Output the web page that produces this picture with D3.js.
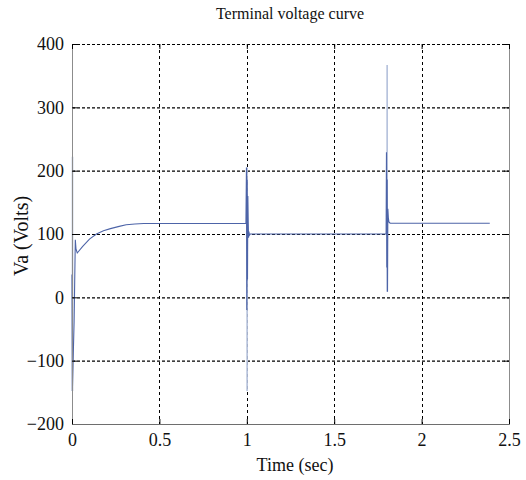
<!DOCTYPE html>
<html>
<head>
<meta charset="utf-8">
<script src="https://cdn.jsdelivr.net/npm/d3@7"></script>
<style>
  html, body { margin: 0; padding: 0; background: #fff; }
  svg { display: block; }
  svg text { font-family: "Liberation Serif", "Times New Roman", serif; }
</style>
</head>
<body>
<svg id="chart" width="526" height="480"></svg>
<script>
// Terminal voltage trace (time in s, voltage in V)
const traceTime = [0, 0.002, 0.012, 0.019, 0.023, 0.03, 0.06, 0.1, 0.14, 0.18, 0.22, 0.27, 0.31, 0.36, 0.41,
  0.995, 0.998, 1.0, 1.002, 1.004, 1.006, 1.008, 1.01, 1.012, 1.015, 1.02,
  1.797, 1.799, 1.801, 1.803, 1.805, 1.807, 1.81, 1.813, 1.82, 2.39];
const traceVolts = [36, -148, -39, 91, 76, 70, 80, 92, 100, 105, 108.5, 112, 114.5, 115.8, 116.5,
  116.5, 205, -20, 186, 28, 160, 123, 94, 104, 98, 100,
  100, 229, 47, 186, 9, 140, 125, 119, 117, 117];

// Fast switching transients (drawn lighter, behind the trace)
const spikeTime = [0, 0.999, 1.8];
const spikeHigh = [222, 205, 367];
const spikeLow = [-148, -148, 9];

const xTicks = [0, 0.5, 1, 1.5, 2, 2.5];
const yTicks = [-200, -100, 0, 100, 200, 300, 400];

const svg = d3.select('#chart');
const plot = { left: 72, right: 509, top: 44, bottom: 424 };
const serif = '"Liberation Serif", "Times New Roman", serif';

const x = d3.scaleLinear().domain([0, 2.5]).range([plot.left, plot.right]);
const y = d3.scaleLinear().domain([-200, 400]).range([plot.bottom, plot.top]);

// Grid (dotted, black)
svg.append('g')
  .selectAll('line')
  .data(yTicks)
  .join('line')
  .attr('x1', plot.left).attr('x2', plot.right)
  .attr('y1', (d) => y(d) + 0.5).attr('y2', (d) => y(d) + 0.5)
  .attr('stroke', '#000')
  .attr('stroke-width', 1.2)
  .attr('stroke-dasharray', '3,2');

svg.append('g')
  .selectAll('line')
  .data(xTicks.slice(1, -1))
  .join('line')
  .attr('x1', (d) => Math.round(x(d)) + 0.5).attr('x2', (d) => Math.round(x(d)) + 0.5)
  .attr('y1', plot.top).attr('y2', plot.bottom)
  .attr('stroke', '#000')
  .attr('stroke-width', 1)
  .attr('stroke-dasharray', '3,3');

// Light transient spikes
svg.append('g')
  .selectAll('line')
  .data(spikeTime)
  .join('line')
  .attr('x1', (d) => x(d) + 0.5).attr('x2', (d) => x(d) + 0.5)
  .attr('y1', (d, i) => y(spikeHigh[i])).attr('y2', (d, i) => y(spikeLow[i]))
  .attr('stroke', '#b3bfdb')
  .attr('stroke-width', 1.6);

// Main trace
const points = traceTime.map((t, i) => [t, traceVolts[i]]);
svg.append('path')
  .datum(points)
  .attr('fill', 'none')
  .attr('stroke', '#4d64a8')
  .attr('stroke-width', 1.1)
  .attr('d', d3.line().x((p) => x(p[0])).y((p) => y(p[1])));

// Axes: ticks drawn inward, box lines in gray
const axisLeft = svg.append('g')
  .attr('transform', `translate(${plot.left},0)`)
  .call(d3.axisLeft(y).tickValues(yTicks).tickSize(-5).tickPadding(8).tickFormat(d3.format('d')));
const axisRight = svg.append('g')
  .attr('transform', `translate(${plot.right},0)`)
  .call(d3.axisRight(y).tickValues(yTicks).tickSize(-5).tickFormat(() => ''));
const axisBottom = svg.append('g')
  .attr('transform', `translate(0,${plot.bottom})`)
  .call(d3.axisBottom(x).tickValues(xTicks).tickSize(-5).tickPadding(9).tickFormat((d) => String(d)));
const axisTop = svg.append('g')
  .attr('transform', `translate(0,${plot.top})`)
  .call(d3.axisTop(x).tickValues(xTicks).tickSize(-5).tickFormat(() => ''));

for (const a of [axisLeft, axisRight, axisBottom, axisTop]) {
  a.attr('font-family', serif).attr('font-size', 18);
  a.selectAll('.tick line').attr('stroke', '#000');
  a.selectAll('.tick text').attr('fill', '#111');
}
axisTop.select('.domain').remove();
axisLeft.select('.domain').attr('stroke', '#8c8c8c');
axisRight.select('.domain').attr('stroke', '#8c8c8c');
axisBottom.select('.domain').attr('stroke', '#6e6e6e');

// Titles
svg.append('text')
  .attr('x', 290).attr('y', 19)
  .attr('text-anchor', 'middle')
  .attr('font-size', '16px')
  .attr('fill', '#111')
  .text('Terminal voltage curve');

svg.append('text')
  .attr('x', 295).attr('y', 471)
  .attr('text-anchor', 'middle')
  .attr('font-size', '18px')
  .attr('fill', '#111')
  .text('Time (sec)');

svg.append('text')
  .attr('transform', 'translate(28,236) rotate(-90)')
  .attr('text-anchor', 'middle')
  .attr('font-size', '20px')
  .attr('fill', '#111')
  .text('Va (Volts)');
</script>
</body>
</html>
